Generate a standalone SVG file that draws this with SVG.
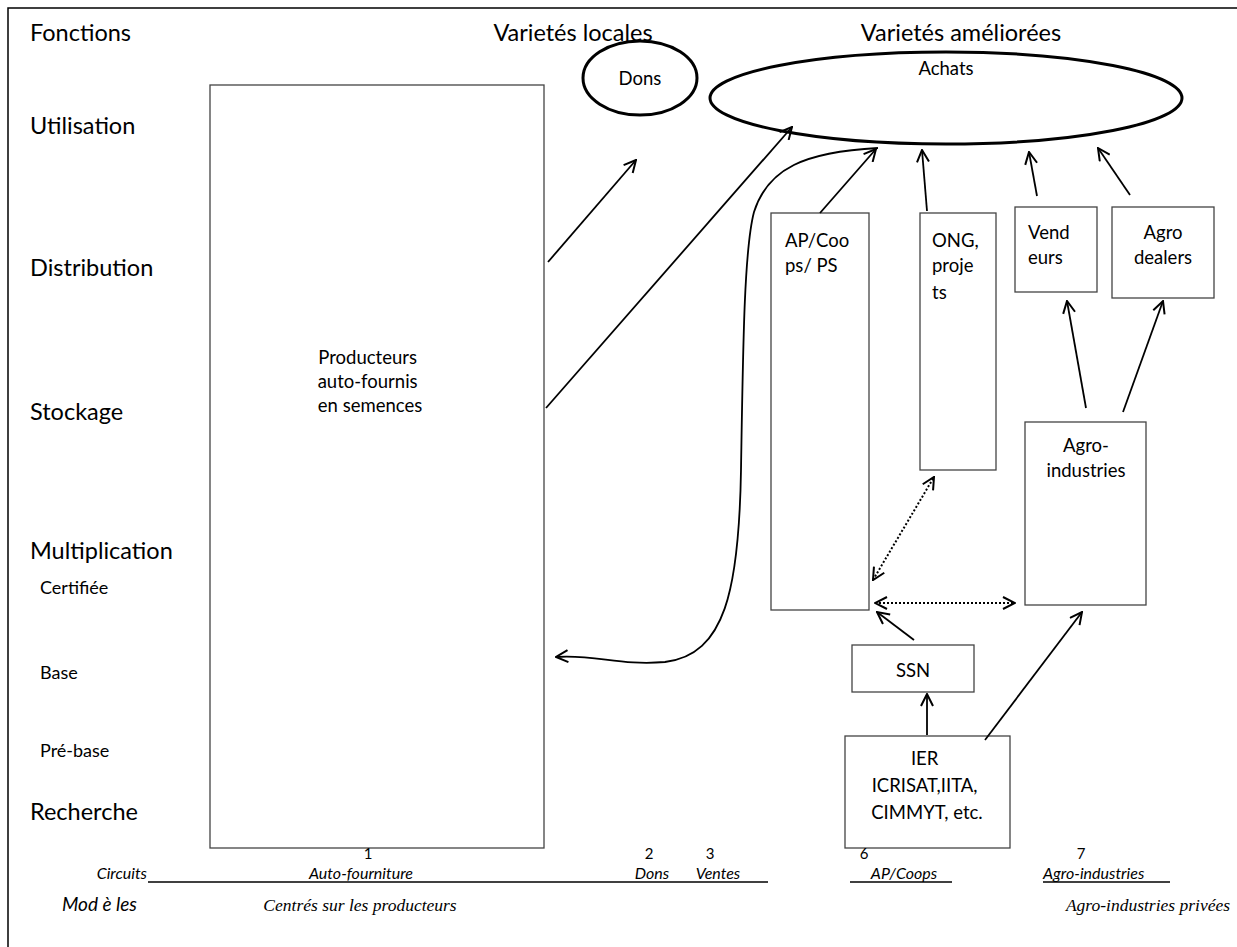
<svg xmlns="http://www.w3.org/2000/svg" width="1237" height="947" viewBox="0 0 1237 947">
  <style>
    .lbl { font-family: Lato, "Open Sans", sans-serif; fill: #000; }
    .big { font-size: 23.5px; }
    .sub { font-size: 18px; }
    .node { font-size: 18.5px; }
    .num { font-size: 15px; }
    .box { fill: #fff; stroke: #444; stroke-width: 1.3; }
    .oval { fill: #fff; stroke: #000; stroke-width: 3; }
    .arr { fill: none; stroke: #000; stroke-width: 1.8; marker-end: url(#head); }
    .dot { fill: none; stroke: #000; stroke-width: 2; stroke-dasharray: 2 2; marker-start: url(#headRev); marker-end: url(#head); }
    .it { font-family: Lato, "Open Sans", sans-serif; font-style: italic; font-size: 16px; }
    .serif { font-family: "Liberation Serif", serif; font-style: italic; font-size: 17.5px; }
    .rule { stroke: #000; stroke-width: 1.6; }
  </style>
  <defs>
    <marker id="head" viewBox="0 0 14 14" refX="13" refY="7" markerWidth="14" markerHeight="14" markerUnits="userSpaceOnUse" orient="auto">
      <path d="M1,1 L13,7 L1,13" fill="none" stroke="#000" stroke-width="2"/>
    </marker>
    <marker id="headRev" viewBox="0 0 14 14" refX="1" refY="7" markerWidth="14" markerHeight="14" markerUnits="userSpaceOnUse" orient="auto">
      <path d="M13,1 L1,7 L13,13" fill="none" stroke="#000" stroke-width="2"/>
    </marker>
  </defs>

  <rect width="1237" height="947" fill="#fff"/>
  <!-- frame: top and left edges -->
  <path d="M8,947 L8,8 L1237,8" fill="none" stroke="#000" stroke-width="1.5"/>

  <!-- column / row headings -->
  <g id="headings" class="lbl">
    <text x="30" y="41" class="big">Fonctions</text>
    <text x="573" y="41" class="big" text-anchor="middle">Varietés locales</text>
    <text x="961" y="41" class="big" text-anchor="middle">Varietés améliorées</text>
    <text x="30" y="134" class="big">Utilisation</text>
    <text x="30" y="276" class="big">Distribution</text>
    <text x="30" y="420" class="big">Stockage</text>
    <text x="30" y="559" class="big">Multiplication</text>
    <text x="40" y="594" class="sub">Certifiée</text>
    <text x="40" y="679" class="sub">Base</text>
    <text x="40" y="757" class="sub">Pré-base</text>
    <text x="30" y="820" class="big">Recherche</text>
  </g>

  <!-- nodes -->
  <g id="producteurs">
    <rect x="210" y="85" width="334" height="763" class="box"/>
    <text class="lbl node" text-anchor="middle">
      <tspan x="370" y="364">Producteurs</tspan>
      <tspan x="370" y="388">auto-fournis</tspan>
      <tspan x="370" y="412">en semences</tspan>
    </text>
  </g>
  <g id="dons">
    <ellipse cx="640" cy="78" rx="57" ry="37" class="oval"/>
    <text x="640" y="85" class="lbl node" text-anchor="middle">Dons</text>
  </g>
  <g id="achats">
    <ellipse cx="946" cy="98" rx="236" ry="46" class="oval"/>
    <text x="946" y="75" class="lbl node" text-anchor="middle">Achats</text>
  </g>
  <g id="apcoops">
    <rect x="771" y="213" width="98" height="397" class="box"/>
    <text class="lbl node"><tspan x="785" y="247">AP/Coo</tspan><tspan x="785" y="272">ps/ PS</tspan></text>
  </g>
  <g id="ong">
    <rect x="920" y="213" width="76" height="257" class="box"/>
    <text class="lbl node"><tspan x="932" y="247">ONG,</tspan><tspan x="932" y="272">proje</tspan><tspan x="932" y="299">ts</tspan></text>
  </g>
  <g id="vendeurs">
    <rect x="1015" y="207" width="82" height="85" class="box"/>
    <text class="lbl node"><tspan x="1028" y="239">Vend</tspan><tspan x="1028" y="264">eurs</tspan></text>
  </g>
  <g id="agrodealers">
    <rect x="1112" y="207" width="102" height="91" class="box"/>
    <text class="lbl node" text-anchor="middle"><tspan x="1163" y="239">Agro</tspan><tspan x="1163" y="264">dealers</tspan></text>
  </g>
  <g id="agroindustries">
    <rect x="1025" y="422" width="121" height="183" class="box"/>
    <text class="lbl node" text-anchor="middle"><tspan x="1086" y="452">Agro-</tspan><tspan x="1086" y="477">industries</tspan></text>
  </g>
  <g id="ssn">
    <rect x="852" y="645" width="122" height="47" class="box"/>
    <text x="913" y="677" class="lbl node" text-anchor="middle">SSN</text>
  </g>
  <g id="ier">
    <rect x="845" y="736" width="165" height="112" class="box"/>
    <text class="lbl node" text-anchor="middle">
      <tspan x="927" y="765">IER</tspan>
      <tspan x="927" y="792">ICRISAT,IITA,</tspan>
      <tspan x="927" y="819">CIMMYT, etc.</tspan>
    </text>
  </g>

  <!-- connectors -->
  <g id="connectors">
    <path d="M548,262 L636,160" class="arr"/>
    <path d="M546,408 L792,127" class="arr"/>
    <path d="M878,148 C805,152 768,168 754,212 C744,250 743,350 741,470 C739,590 725,655 665,662 C620,666 595,654 556,657" class="arr"/>
    <path d="M820,213 L876,149" class="arr"/>
    <path d="M927,211 L922,150" class="arr"/>
    <path d="M1037,196 L1029,152" class="arr"/>
    <path d="M1130,195 L1098,148" class="arr"/>
    <path d="M1086,408 L1067,301" class="arr"/>
    <path d="M1123,412 L1163,301" class="arr"/>
    <path d="M873,580 L934,477" class="dot"/>
    <path d="M875,603 L1015,603" class="dot"/>
    <path d="M914,640 L877,612" class="arr"/>
    <path d="M927,735 L927,694" class="arr"/>
    <path d="M985,740 L1082,612" class="arr"/>
  </g>

  <!-- bottom legend -->
  <g id="legend">
    <text class="lbl num" text-anchor="middle">
      <tspan x="370" y="859">1</tspan>
      <tspan x="651" y="859">2</tspan>
      <tspan x="712" y="859">3</tspan>
      <tspan x="866" y="859">6</tspan>
      <tspan x="1081" y="859">7</tspan>
    </text>
    <text x="147" y="879" class="it" text-anchor="end">Circuits</text>
    <text x="361" y="879" class="it" text-anchor="middle">Auto-fourniture</text>
    <text x="652" y="879" class="it" text-anchor="middle">Dons</text>
    <text x="718" y="879" class="it" text-anchor="middle">Ventes</text>
    <text x="904" y="879" class="it" text-anchor="middle">AP/Coops</text>
    <text x="1043" y="879" class="it">Agro-industries</text>
    <line x1="148" y1="882" x2="768" y2="882" class="rule"/>
    <line x1="850" y1="882" x2="952" y2="882" class="rule"/>
    <line x1="1043" y1="882" x2="1170" y2="882" class="rule"/>
    <text x="62" y="911" class="lbl" font-style="italic" font-size="19">Mod è les</text>
    <text x="360" y="911" class="serif" text-anchor="middle">Centrés sur les producteurs</text>
    <text x="1230" y="911" class="serif" text-anchor="end">Agro-industries privées</text>
  </g>
</svg>
